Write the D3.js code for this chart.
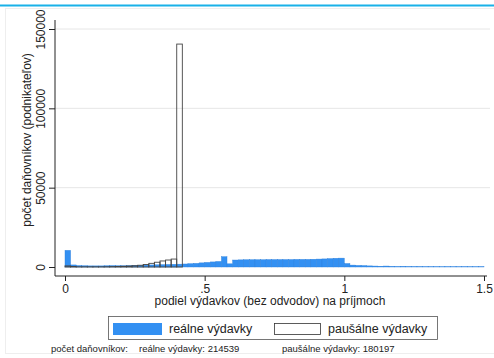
<!DOCTYPE html>
<html>
<head>
<meta charset="utf-8">
<script src="https://cdn.jsdelivr.net/npm/d3@7"></script>
<style>
  body { margin: 0; background: #fff; }
  svg text { font-family: "Liberation Sans", Arial, sans-serif; fill: #222; }
</style>
</head>
<body>
<svg id="chart" width="494" height="358"></svg>
<script>
// šírka binu histogramu
const binWidth = 0.02;

// reálne výdavky – počty v binoch 0.00 .. 1.48
const realneCounts = [
  10500, 1300, 900, 800, 700, 700, 700, 800, 900, 800,
  800, 900, 1000, 1100, 1200, 1300, 1400, 1500, 1600, 1700,
  1800, 1900, 2100, 2300, 2600, 2900, 3200, 3500, 6500, 2000,
  4400, 4500, 4600, 4600, 4600, 4600, 4700, 4700, 4700, 4700,
  4700, 4800, 4800, 4800, 4900, 5000, 5100, 5300, 5500, 5600,
  2200, 1200, 1000, 900, 700, 600, 500, 600, 400, 300,
  400, 300, 250, 250, 200, 200, 200, 150, 200, 150,
  150, 200, 150, 150, 200
];

// paušálne výdavky – počty v binoch 0.00 .. 0.40
const pausalneCounts = [
  700, 300, 100, 100, 100, 100, 100, 150, 250, 350,
  450, 600, 800, 1100, 1600, 2300, 3000, 3800, 4400, 5000,
  140500
];

const yTicks = [0, 50000, 100000, 150000];
const xTicks = [0, 0.5, 1, 1.5];
const xTickLabels = ["0", ".5", "1", "1.5"];

const legendLabels = ["reálne výdavky", "paušálne výdavky"];
const noteLabel = "počet daňovníkov:";
const noteTotals = ["reálne výdavky: 214539", "paušálne výdavky: 180197"];

const svg = d3.select("#chart");
const blue = "#3390f2";

// škály
const x = d3.scaleLinear().domain([0, 1.5]).range([65, 484]);
const y = d3.scaleLinear().domain([0, 150000]).range([267, 29]);

// horná modrá linka
svg.append("line")
  .attr("x1", 0).attr("x2", 494).attr("y1", 5.5).attr("y2", 5.5)
  .attr("stroke", "#19b1e8").attr("stroke-width", 2);

// jemný rámček grafu
svg.append("rect")
  .attr("x", 5.5).attr("y", 8.5).attr("width", 494).attr("height", 345)
  .attr("fill", "none").attr("stroke", "#eeeeee");

// mriežka
svg.append("g").selectAll("line")
  .data(yTicks.slice(1))
  .enter().append("line")
  .attr("x1", 55).attr("x2", 490)
  .attr("y1", d => y(d)).attr("y2", d => y(d))
  .attr("stroke", "#e6e6e6").attr("stroke-width", 1);

// reálne výdavky (plné stĺpce)
svg.append("g").selectAll("rect")
  .data(realneCounts)
  .enter().append("rect")
  .attr("x", (d, i) => x(i * binWidth))
  .attr("width", x(binWidth) - x(0))
  .attr("y", d => y(d))
  .attr("height", d => y(0) - y(d))
  .attr("fill", blue)
  .attr("stroke", "#2a7fdc")
  .attr("stroke-width", 0.4);

// paušálne výdavky (prázdne stĺpce)
svg.append("g").selectAll("rect")
  .data(pausalneCounts)
  .enter().append("rect")
  .attr("x", (d, i) => x(i * binWidth))
  .attr("width", x(binWidth) - x(0))
  .attr("y", d => y(d))
  .attr("height", d => y(0) - y(d))
  .attr("fill", "none")
  .attr("stroke", "#444")
  .attr("stroke-width", 0.9);

// osi
const gY = svg.append("g")
  .attr("transform", "translate(55,0)")
  .call(d3.axisLeft(y).tickValues(yTicks).tickSize(6).tickFormat(d3.format("d")));
gY.select(".domain").remove();
gY.selectAll(".tick line").attr("stroke", "#222");
gY.selectAll(".tick text")
  .attr("font-size", 12)
  .attr("x", 0).attr("dy", 0)
  .attr("text-anchor", "middle")
  .attr("transform", "translate(-10,0) rotate(-90)");

svg.append("line")
  .attr("x1", 55).attr("x2", 55).attr("y1", 20).attr("y2", 276)
  .attr("stroke", "#222").attr("stroke-width", 1);

const gX = svg.append("g")
  .attr("transform", "translate(0,276)")
  .call(d3.axisBottom(x).tickValues(xTicks).tickSize(5)
    .tickFormat((d, i) => xTickLabels[i]));
gX.select(".domain").remove();
gX.selectAll(".tick line").attr("stroke", "#222");
gX.selectAll(".tick text").attr("font-size", 12).attr("y", 8).attr("dy", "0.71em");

svg.append("line")
  .attr("x1", 55).attr("x2", 487).attr("y1", 276).attr("y2", 276)
  .attr("stroke", "#222").attr("stroke-width", 1);

// názvy osí
svg.append("text")
  .attr("transform", "translate(31,140) rotate(-90)")
  .attr("text-anchor", "middle")
  .attr("font-size", 12)
  .text("počet daňovníkov (podnikateľov)");

svg.append("text")
  .attr("x", 270).attr("y", 305)
  .attr("text-anchor", "middle")
  .attr("font-size", 12)
  .text("podiel výdavkov (bez odvodov) na príjmoch");

// legenda
const legend = svg.append("g");
legend.append("rect")
  .attr("x", 108.5).attr("y", 316.5).attr("width", 329).attr("height", 23)
  .attr("fill", "#fff").attr("stroke", "#555").attr("stroke-width", 0.8);
legend.append("rect")
  .attr("x", 113).attr("y", 323).attr("width", 49).attr("height", 12)
  .attr("fill", blue);
legend.append("text")
  .attr("x", 169).attr("y", 333).attr("font-size", 12.5)
  .text(legendLabels[0]);
legend.append("rect")
  .attr("x", 274.5).attr("y", 323.5).attr("width", 46).attr("height", 11)
  .attr("fill", "#fff").attr("stroke", "#333").attr("stroke-width", 0.8);
legend.append("text")
  .attr("x", 328).attr("y", 333).attr("font-size", 12.5)
  .text(legendLabels[1]);

// poznámka
svg.append("text")
  .attr("x", 128).attr("y", 352).attr("font-size", 9.5)
  .attr("text-anchor", "end")
  .text(noteLabel);
svg.append("text")
  .attr("x", 139).attr("y", 352).attr("font-size", 9.5)
  .text(noteTotals[0]);
svg.append("text")
  .attr("x", 282).attr("y", 352).attr("font-size", 9.5)
  .text(noteTotals[1]);
</script>
</body>
</html>
